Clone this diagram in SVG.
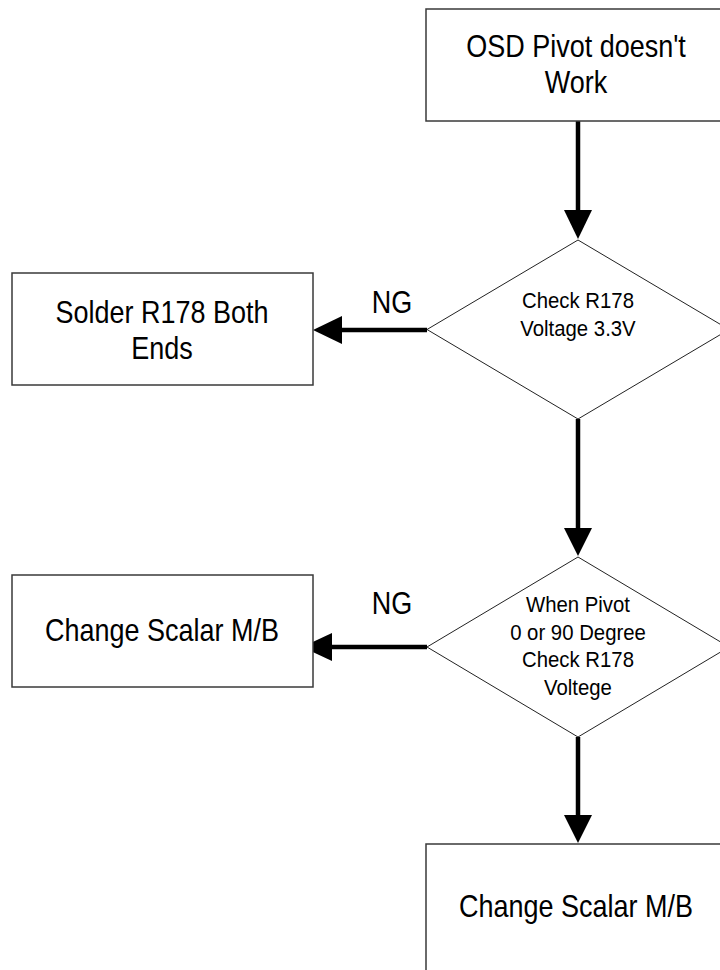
<svg xmlns="http://www.w3.org/2000/svg" width="720" height="970" viewBox="0 0 720 970">
<style>
.box{fill:#fff;stroke:#3a3a3a;stroke-width:1.5}
.dia{fill:#fff;stroke:#222;stroke-width:1}
.t{font-family:"Liberation Sans",Arial,sans-serif;fill:#000;text-anchor:middle}
.big{font-size:30.5px}
.sm{font-size:23px}
.wire{stroke:#000;stroke-width:4.5;fill:none}
.head{fill:#000}
</style>
<rect width="720" height="970" fill="#fff"/>
<g id="connectors">
<line class="wire" x1="578" y1="121" x2="578" y2="212"/>
<polygon class="head" points="564,210 592,210 578,239"/>
<line class="wire" x1="578" y1="419" x2="578" y2="530"/>
<polygon class="head" points="564,528 592,528 578,556"/>
<line class="wire" x1="578" y1="737" x2="578" y2="817"/>
<polygon class="head" points="564,815 592,815 578,843"/>
<line class="wire" x1="427" y1="330" x2="340" y2="330"/>
<polygon class="head" points="342,316 342,344 313,330"/>
<line class="wire" x1="427" y1="647" x2="330" y2="647"/>
<polygon class="head" points="332,633 332,661 302,647"/>
<g transform="translate(392,0) scale(0.885,1)"><text class="t big" x="0" y="313">NG</text></g>
<g transform="translate(392,0) scale(0.885,1)"><text class="t big" x="0" y="614">NG</text></g>
</g>
<g id="start">
<rect class="box" x="426" y="9" width="302" height="112"/>
<g transform="translate(576,0) scale(0.885,1)">
<text class="t big" x="0" y="57">OSD Pivot doesn't</text>
<text class="t big" x="0" y="93">Work</text>
</g>
</g>
<g id="check1">
<polygon class="dia" points="578,240 729,329.5 578,419 427,329.5"/>
<g transform="translate(578,0) scale(0.885,1)">
<text class="t sm" x="0" y="308">Check R178</text>
<text class="t sm" x="0" y="336">Voltage 3.3V</text>
</g>
</g>
<g id="solder">
<rect class="box" x="12" y="273" width="301" height="112"/>
<g transform="translate(162,0) scale(0.885,1)">
<text class="t big" x="0" y="323">Solder R178 Both</text>
<text class="t big" x="0" y="359">Ends</text>
</g>
</g>
<g id="check2">
<polygon class="dia" points="578,557 729,647 578,737 427,647"/>
<g transform="translate(578,0) scale(0.885,1)">
<text class="t sm" x="0" y="612">When Pivot</text>
<text class="t sm" x="0" y="640">0 or 90 Degree</text>
<text class="t sm" x="0" y="667">Check R178</text>
<text class="t sm" x="0" y="695">Voltege</text>
</g>
</g>
<g id="change1">
<rect class="box" x="12" y="575" width="301" height="112"/>
<g transform="translate(162,0) scale(0.885,1)">
<text class="t big" x="0" y="641">Change Scalar M/B</text>
</g>
</g>
<g id="change2">
<rect class="box" x="426" y="844" width="302" height="135"/>
<g transform="translate(576,0) scale(0.885,1)">
<text class="t big" x="0" y="917">Change Scalar M/B</text>
</g>
</g>
</svg>
